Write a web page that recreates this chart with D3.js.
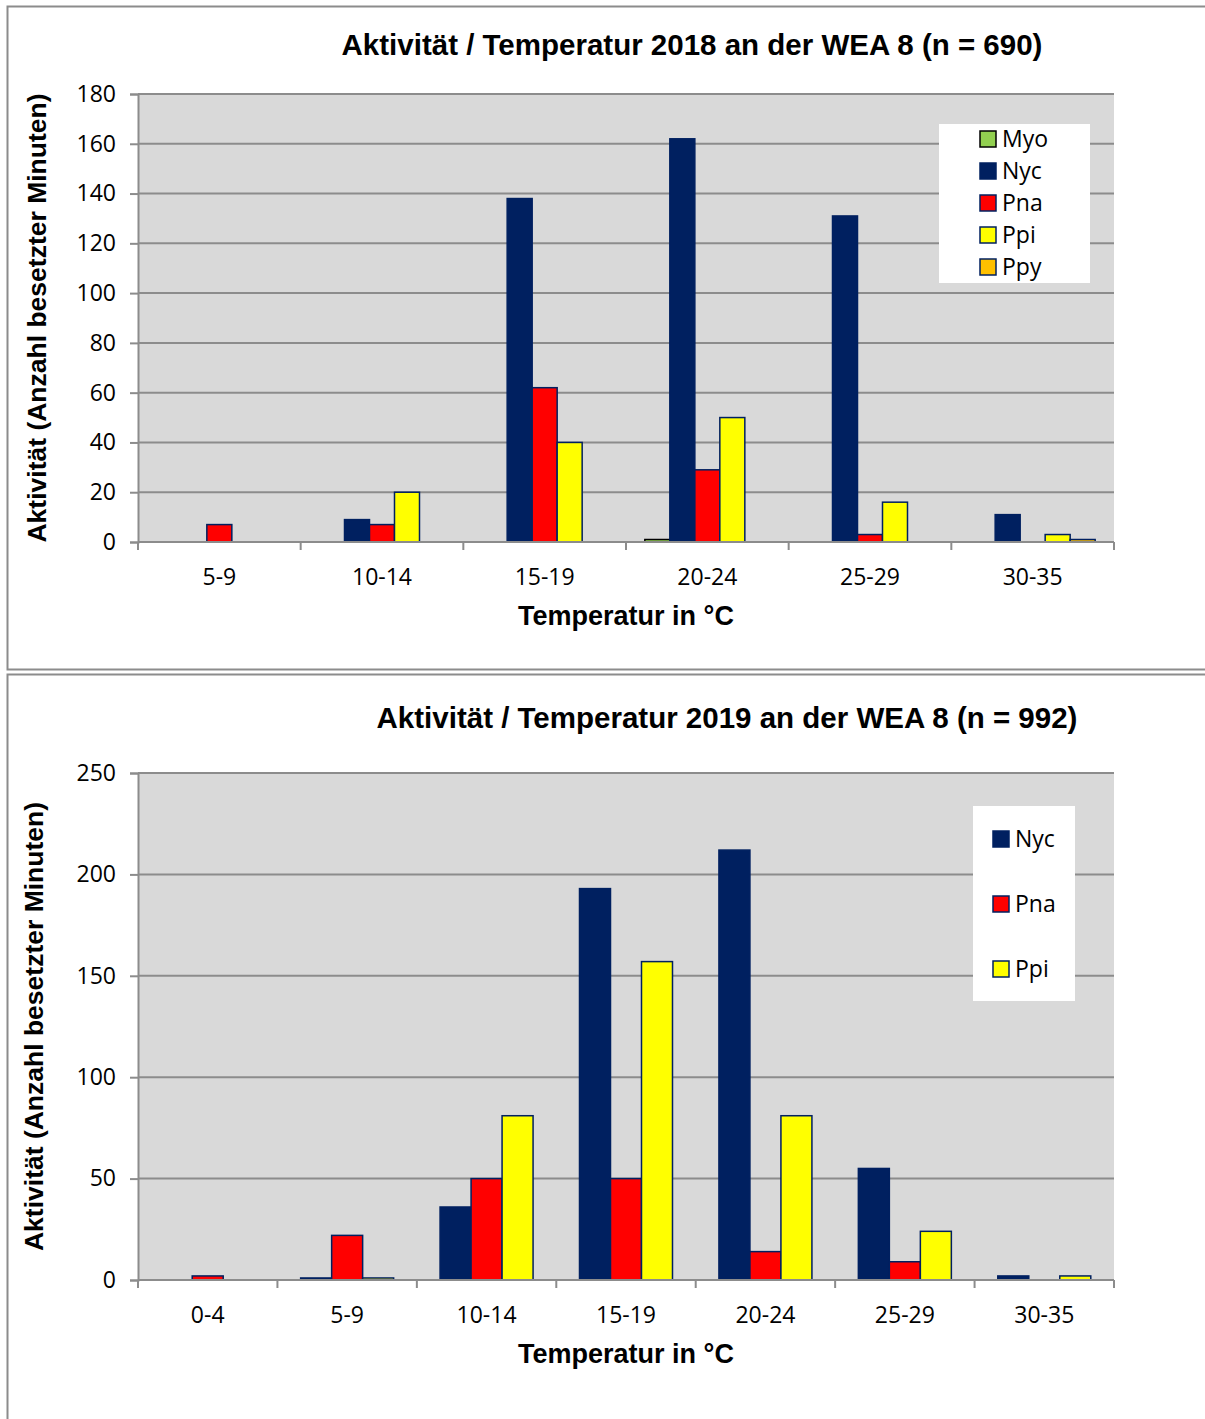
<!DOCTYPE html>
<html>
<head>
<meta charset="utf-8">
<script src="https://cdn.jsdelivr.net/npm/d3@7"></script>
<style>
  body { margin: 0; background: #fff; }
  svg { display: block; }
  .tick text { font-family: "Open Sans", "Noto Sans", sans-serif; font-size: 23px; fill: #000; }
</style>
</head>
<body>
<svg id="chart" width="1205" height="1419"></svg>
<script>
// 2018 data
var cats2018 = ['5-9', '10-14', '15-19', '20-24', '25-29', '30-35'];
var series2018 = ['Myo', 'Nyc', 'Pna', 'Ppi', 'Ppy'];
var myo2018 = [0, 0, 0, 1, 0, 0];
var nyc2018 = [0, 9, 138, 162, 131, 11];
var pna2018 = [7, 7, 62, 29, 3, 0];
var ppi2018 = [0, 20, 40, 50, 16, 3];
var ppy2018 = [0, 0, 0, 0, 0, 1];
var yTicks2018 = [0, 20, 40, 60, 80, 100, 120, 140, 160, 180];

// 2019 data
var cats2019 = ['0-4', '5-9', '10-14', '15-19', '20-24', '25-29', '30-35'];
var series2019 = ['Nyc', 'Pna', 'Ppi'];
var nyc2019 = [0, 1, 36, 193, 212, 55, 2];
var pna2019 = [2, 22, 50, 50, 14, 9, 0];
var ppi2019 = [0, 1, 81, 157, 81, 24, 2];
var yTicks2019 = [0, 50, 100, 150, 200, 250];

var fills = { Myo: '#92d050', Nyc: '#002060', Pna: '#ff0000', Ppi: '#ffff00', Ppy: '#ffc000' };
var strokes = { Myo: '#000', Nyc: '#002060', Pna: '#002060', Ppi: '#002060', Ppy: '#002060' };

var svg = d3.select('#chart');

// panel frames
svg.append('path').attr('d', 'M1205,6.5 H7.5 V669.5 H1205')
  .attr('fill', 'none').attr('stroke', '#8c8c8c').attr('stroke-width', 2);
svg.append('path').attr('d', 'M1205,674.5 H7.5 V1419')
  .attr('fill', 'none').attr('stroke', '#8c8c8c').attr('stroke-width', 2);

function drawChart(opt) {
  var g = svg.append('g');
  var x = d3.scaleBand().domain(opt.cats).range([opt.x0, opt.x1])
    .paddingInner(opt.pad).paddingOuter(opt.pad / 2);
  var xs = d3.scaleBand().domain(opt.series).range([0, x.bandwidth()]);
  var y = d3.scaleLinear().domain([0, opt.ymax]).range([opt.y0, opt.y1]);

  g.append('rect').attr('x', opt.x0).attr('y', opt.y1)
    .attr('width', opt.x1 - opt.x0).attr('height', opt.y0 - opt.y1)
    .attr('fill', '#d9d9d9');

  // gridlines + y axis
  var yAxis = g.append('g').attr('transform', 'translate(' + opt.x0 + ',0)')
    .call(d3.axisLeft(y).tickValues(opt.yTicks).tickSize(8).tickPadding(14));
  yAxis.select('.domain').attr('stroke', '#8c8c8c').attr('stroke-width', 2);
  yAxis.selectAll('.tick line').attr('stroke', '#8c8c8c').attr('stroke-width', 2);
  g.append('g').selectAll('line').data(opt.yTicks.slice(1)).enter().append('line')
    .attr('x1', opt.x0).attr('x2', opt.x1)
    .attr('y1', function(d) { return y(d); }).attr('y2', function(d) { return y(d); })
    .attr('stroke', '#8c8c8c').attr('stroke-width', 2);

  // bars
  var rows = [];
  opt.series.forEach(function(s, si) {
    opt.cats.forEach(function(c, ci) {
      rows.push({ s: s, c: c, v: opt.values[si][ci] });
    });
  });
  g.append('g').selectAll('rect').data(rows.filter(function(d) { return d.v > 0; }))
    .enter().append('rect')
    .attr('x', function(d) { return x(d.c) + xs(d.s); })
    .attr('y', function(d) { return y(d.v); })
    .attr('width', xs.bandwidth())
    .attr('height', function(d) { return opt.y0 - y(d.v); })
    .attr('fill', function(d) { return fills[d.s]; })
    .attr('stroke', function(d) { return strokes[d.s]; })
    .attr('stroke-width', 1.5);

  // x axis
  var xAxis = g.append('g').attr('transform', 'translate(0,' + opt.y0 + ')')
    .call(d3.axisBottom(x).tickSize(0).tickPadding(27));
  xAxis.select('.domain').remove();
  g.append('line').attr('x1', opt.x0).attr('x2', opt.x1)
    .attr('y1', opt.y0).attr('y2', opt.y0)
    .attr('stroke', '#8c8c8c').attr('stroke-width', 2);
  var step = x.step();
  g.append('g').selectAll('line').data(d3.range(opt.cats.length + 1)).enter().append('line')
    .attr('x1', function(i) { return opt.x0 + i * step; })
    .attr('x2', function(i) { return opt.x0 + i * step; })
    .attr('y1', opt.y0).attr('y2', opt.y0 + 8)
    .attr('stroke', '#8c8c8c').attr('stroke-width', 2);

  // titles
  g.append('text').attr('x', opt.titleX).attr('y', opt.titleY)
    .attr('text-anchor', 'middle')
    .style('font-family', '"Liberation Sans", Arial, sans-serif')
    .style('font-weight', 'bold').style('font-size', '29.5px')
    .text(opt.title);
  g.append('text').attr('x', 626).attr('y', opt.y0 + 83)
    .attr('text-anchor', 'middle')
    .style('font-family', '"Liberation Sans", Arial, sans-serif')
    .style('font-weight', 'bold').style('font-size', '27px')
    .text('Temperatur in °C');
  g.append('text')
    .attr('transform', 'translate(' + opt.ytX + ',' + ((opt.y0 + opt.y1) / 2) + ') rotate(-90)')
    .attr('text-anchor', 'middle')
    .style('font-family', '"Liberation Sans", Arial, sans-serif')
    .style('font-weight', 'bold').style('font-size', '26.5px')
    .text('Aktivität (Anzahl besetzter Minuten)');

  // legend
  var lg = opt.legend;
  g.append('rect').attr('x', lg.x).attr('y', lg.y).attr('width', lg.w).attr('height', lg.h)
    .attr('fill', '#fff');
  var items = g.append('g').selectAll('g').data(opt.series).enter().append('g')
    .attr('transform', function(d, i) { return 'translate(' + lg.sx + ',' + (lg.first + i * lg.gap) + ')'; });
  items.append('rect').attr('x', 0).attr('y', -8).attr('width', 16).attr('height', 16)
    .attr('fill', function(d) { return fills[d]; })
    .attr('stroke', function(d) { return strokes[d]; }).attr('stroke-width', 1.5);
  items.append('text').attr('x', 22).attr('y', 8)
    .style('font-family', '"Open Sans", "Noto Sans", sans-serif').style('font-size', '23px')
    .text(function(d) { return d; });
}

drawChart({
  cats: cats2018, series: series2018,
  values: [myo2018, nyc2018, pna2018, ppi2018, ppy2018],
  yTicks: yTicks2018, ymax: 180, pad: 0.2316,
  x0: 138, x1: 1114, y0: 542, y1: 94,
  title: 'Aktivität / Temperatur 2018 an der WEA 8 (n = 690)', titleX: 692, titleY: 55,
  ytX: 46,
  legend: { x: 939, y: 124, w: 151, h: 159, sx: 980, first: 139, gap: 32 }
});

drawChart({
  cats: cats2019, series: series2019,
  values: [nyc2019, pna2019, ppi2019],
  yTicks: yTicks2019, ymax: 250, pad: 0.333,
  x0: 138, x1: 1114, y0: 1280, y1: 773,
  title: 'Aktivität / Temperatur 2019 an der WEA 8 (n = 992)', titleX: 727, titleY: 728,
  ytX: 43,
  legend: { x: 973, y: 806, w: 102, h: 195, sx: 993, first: 839, gap: 65 }
});
</script>
</body>
</html>
